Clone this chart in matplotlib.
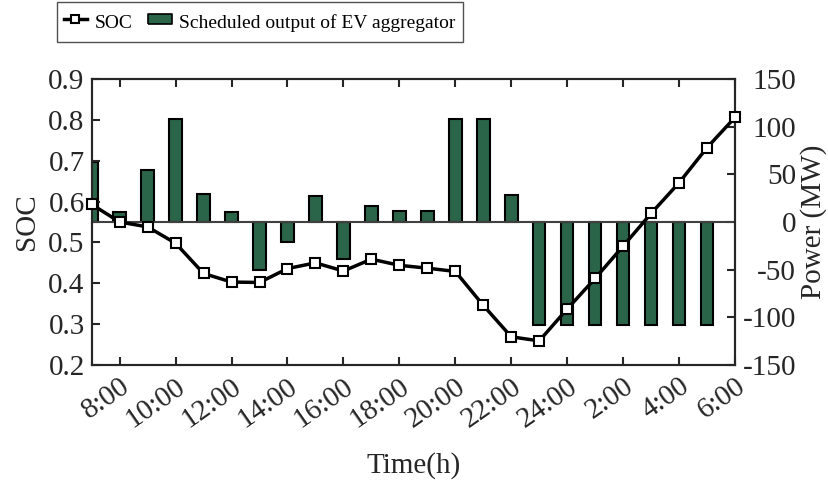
import numpy as np
import matplotlib
matplotlib.use('Agg')
import matplotlib.pyplot as plt
from matplotlib.lines import Line2D

plt.rcParams['font.family'] = ['Liberation Serif', 'DejaVu Serif']
plt.rcParams['font.size'] = 21
plt.rcParams['axes.unicode_minus'] = False

# hourly schedule, 7:00 today to 6:00 next morning
hours = np.arange(7, 31)
soc = [0.593, 0.550, 0.538, 0.498, 0.424, 0.403, 0.402, 0.436, 0.450, 0.430,
       0.459, 0.444, 0.437, 0.429, 0.346, 0.269, 0.259, 0.337, 0.412, 0.491,
       0.571, 0.646, 0.732, 0.806]
power = [63, 11, 55, 108, 29, 10, -50, -21, 27, -39, 17, 12, 12, 108, 108, 28,
         -108, -108, -108, -108, -108, -108, -108]
tick_hours = np.arange(8, 31, 2)
tick_labels = ['8:00', '10:00', '12:00', '14:00', '16:00', '18:00', '20:00',
               '22:00', '24:00', '2:00', '4:00', '6:00']

ink = '#262626'
green = '#2b6549'

fig = plt.figure(figsize=(8.29, 4.8), dpi=100)
ax = fig.add_axes([0.1106, 0.2396, 0.7760, 0.5958])
ax2 = ax.twinx()

# bars live on the power axis, SOC curve drawn on top of them
ax2.bar(hours[:len(power)], power, width=0.45, color=green,
        edgecolor='black', linewidth=1.5, zorder=2)
ax2.axhline(0, color='#404040', linewidth=1.5, zorder=3)
ax2.set_ylim(-150, 150)
ax2.set_yticks(np.arange(-150, 151, 50))
for lbl in ax2.get_yticklabels():
    lbl.set_horizontalalignment('right')

ax.set_zorder(ax2.get_zorder() + 1)
ax.patch.set_visible(False)
ax.plot(hours, soc, color='black', linewidth=2.5, marker='s', markersize=7,
        markerfacecolor='white', markeredgecolor='black', markeredgewidth=1.5,
        clip_on=False, zorder=4)
ax.set_xlim(7, 30)
ax.set_ylim(0.2, 0.9)
ax.set_yticks(np.arange(0.2, 0.91, 0.1))
ax.set_yticklabels([f'{v:.1f}' for v in np.arange(0.2, 0.91, 0.1)])
ax.set_xticks(tick_hours)
ax.set_xticklabels(tick_labels, rotation=35, ha='right',
                   rotation_mode='anchor')

for a in (ax, ax2):
    for sp in a.spines.values():
        sp.set_linewidth(1.5)
        sp.set_color(ink)
    a.tick_params(direction='in', length=6, width=1.5, colors=ink, pad=5)
ax.tick_params(axis='x', top=True, pad=6)
ax2.tick_params(axis='y', pad=44)

ax.set_ylabel('SOC', color=ink, labelpad=6)
ax.set_xlabel('Time(h)', color=ink, labelpad=14)
ax2.set_ylabel('Power (MW)', color=ink, labelpad=3)

# flat rectangle marker stands in for the bar swatch
swatch = [(-1, -0.45), (1, -0.45), (1, 0.45), (-1, 0.45), (-1, -0.45)]
handles = [
    Line2D([], [], color='black', linewidth=2.5, marker='s', markersize=6,
           markerfacecolor='white', markeredgewidth=1.5),
    Line2D([], [], linestyle='none', marker=swatch, markersize=17,
           markerfacecolor=green, markeredgecolor='black',
           markeredgewidth=1.2),
]
fig.legend(handles, ['SOC', 'Scheduled output of EV aggregator'],
           loc='upper center', bbox_to_anchor=(0.3134, 0.996), ncol=2,
           fontsize=14, frameon=True, fancybox=False, edgecolor=ink,
           handlelength=1.2, handleheight=1.75, handletextpad=0.4,
           columnspacing=0.8, borderpad=0.35, borderaxespad=0)

fig.savefig('out.png', dpi=100)
